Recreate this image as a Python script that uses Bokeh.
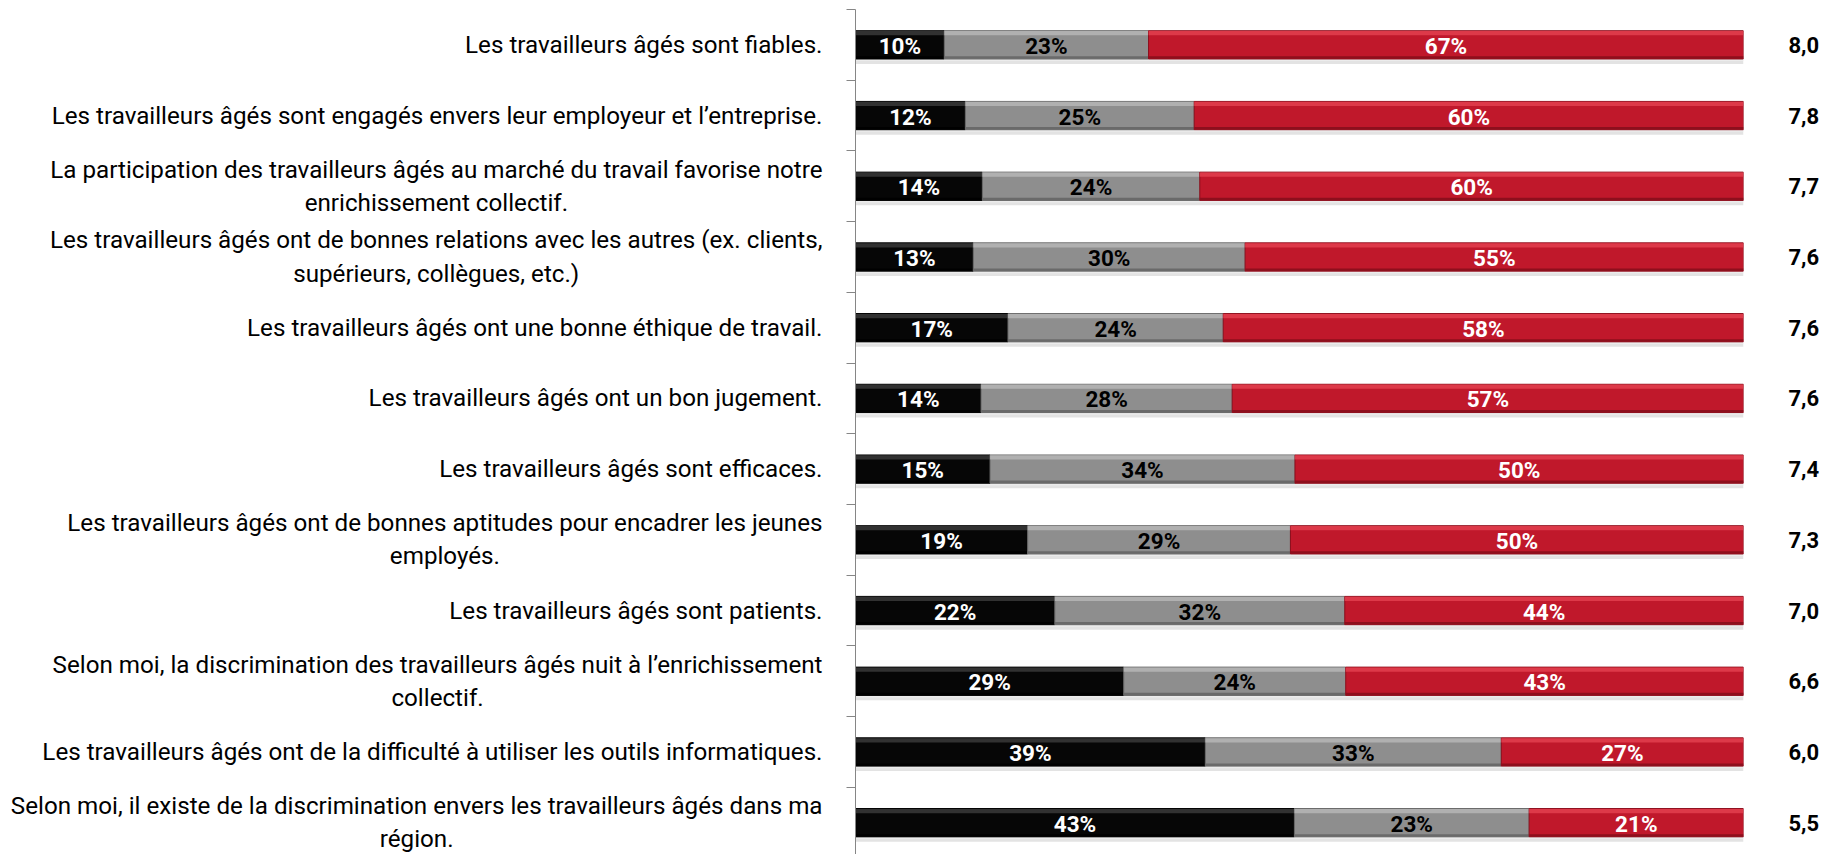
from bokeh.plotting import figure
from bokeh.layouts import row
from bokeh.models import Range1d, FixedTicker, LinearAxis, ColumnDataSource
from bokeh.embed import file_html
from bokeh.resources import INLINE
from bokeh.core.properties import value

statements = [
    "Les travailleurs âgés sont fiables.",
    "Les travailleurs âgés sont engagés envers leur employeur et l’entreprise.",
    "La participation des travailleurs âgés au marché du travail favorise notre\nenrichissement collectif.",
    "Les travailleurs âgés ont de bonnes relations avec les autres (ex. clients,\nsupérieurs, collègues, etc.)",
    "Les travailleurs âgés ont une bonne éthique de travail.",
    "Les travailleurs âgés ont un bon jugement.",
    "Les travailleurs âgés sont efficaces.",
    "Les travailleurs âgés ont de bonnes aptitudes pour encadrer les jeunes\nemployés.",
    "Les travailleurs âgés sont patients.",
    "Selon moi, la discrimination des travailleurs âgés nuit à l’enrichissement\ncollectif.",
    "Les travailleurs âgés ont de la difficulté à utiliser les outils informatiques.",
    "Selon moi, il existe de la discrimination envers les travailleurs âgés dans ma\nrégion.",
]
pct_low = [10, 12, 14, 13, 17, 14, 15, 19, 22, 29, 39, 43]
pct_mid = [23, 25, 24, 30, 24, 28, 34, 29, 32, 24, 33, 23]
pct_high = [67, 60, 60, 55, 58, 57, 50, 50, 44, 43, 27, 21]
scores = ["8,0", "7,8", "7,7", "7,6", "7,6", "7,6", "7,4", "7,3", "7,0", "6,6", "6,0", "5,5"]

FONT = "Roboto"
n = len(statements)
ys = [k + 0.5 for k in range(n)]
tot = [a + b + c for a, b, c in zip(pct_low, pct_mid, pct_high)]
l0 = [0.0] * n
r0 = [a / t for a, t in zip(pct_low, tot)]
r1 = [(a + b) / t for a, b, t in zip(pct_low, pct_mid, tot)]
r2 = [1.0] * n

yr = Range1d(11.95, 0)

# ---- left panel: statement labels
LW = 835
lp = figure(width=LW, height=854, output_backend="svg", toolbar_location=None,
            x_range=Range1d(0, 1), y_range=yr,
            x_axis_location=None, y_axis_location=None,
            min_border_left=0, min_border_right=0, min_border_top=9, min_border_bottom=0)
lp.outline_line_color = None
lp.xgrid.visible = False
lp.ygrid.visible = False
lsrc = ColumnDataSource(dict(x=[1.0] * n, y=ys, t=statements))
lp.text(x="x", y="y", text="t", source=lsrc, anchor="center_right", text_align="center",
        text_baseline="middle", x_offset=-13, text_color="black",
        text_font=value(FONT), text_font_size="24.2px", text_line_height=1.18)

# ---- main panel: bars
p = figure(width=1841 - LW, height=854, output_backend="svg", toolbar_location=None,
           x_range=Range1d(0, 1), y_range=yr,
           x_axis_location=None, y_axis_location=None,
           min_border_left=855 - LW, min_border_right=98, min_border_top=9, min_border_bottom=0)
p.outline_line_color = None
p.xgrid.visible = False
p.ygrid.visible = False

H = 0.40
segs = [
    (l0, r0, "#060606", "#3a3a3a", "#000000", pct_low, "white"),
    (r0, r1, "#8e8e8e", "#b6b6b6", "#6a6a6a", pct_mid, "black"),
    (r1, r2, "#c0182b", "#e2404f", "#8e0f1d", pct_high, "white"),
]

# soft shadow
p.hbar(y=[y + 0.07 for y in ys], left=l0, right=r2, height=H, fill_color="#dcdcdc",
       line_color=None, fill_alpha=0.8)
p.hbar(y=[y + 0.11 for y in ys], left=l0, right=r2, height=H * 0.6, fill_color="#eeeeee",
       line_color=None, fill_alpha=0.8)

for left, right, col, hi, lo, vals, tcol in segs:
    p.hbar(y=ys, left=left, right=right, height=H, fill_color=col, line_color=lo, line_width=1)
    p.hbar(y=[y - H / 2 + 0.035 for y in ys], left=left, right=right, height=0.06,
           fill_color=hi, line_color=None, fill_alpha=0.85)
    p.hbar(y=[y + H / 2 - 0.02 for y in ys], left=left, right=right, height=0.035,
           fill_color=lo, line_color=None)
    src = ColumnDataSource(dict(x=[(a + b) / 2 for a, b in zip(left, right)], y=ys,
                                t=[f"{v}%" for v in vals]))
    p.text(x="x", y="y", text="t", source=src, text_align="center", text_baseline="middle",
           text_color=tcol, text_font=value(FONT), text_font_style="bold",
           text_font_size="22.5px", y_offset=1)

# left axis: ticks at category boundaries
tick_axis = LinearAxis(ticker=FixedTicker(ticks=list(range(n + 1)), minor_ticks=[]))
tick_axis.major_label_overrides = {k: "" for k in range(n + 1)}
tick_axis.major_label_text_font_size = "0px"
tick_axis.major_label_standoff = 0
tick_axis.major_tick_out = 9
tick_axis.major_tick_in = 0
tick_axis.minor_tick_out = 0
tick_axis.major_tick_line_color = "#868686"
tick_axis.axis_line_color = "#868686"
p.add_layout(tick_axis, "left")

# right axis: mean scores
sc_axis = LinearAxis(ticker=FixedTicker(ticks=ys))
sc_axis.major_label_overrides = {y: s for y, s in zip(ys, scores)}
sc_axis.major_tick_out = 0
sc_axis.major_tick_in = 0
sc_axis.minor_tick_out = 0
sc_axis.axis_line_color = None
sc_axis.major_label_standoff = 45
sc_axis.major_label_text_font = FONT
sc_axis.major_label_text_font_style = "bold"
sc_axis.major_label_text_font_size = "22px"
sc_axis.major_label_text_color = "black"
p.add_layout(sc_axis, "right")

open("out.html", "w").write(file_html(row(lp, p), INLINE))
